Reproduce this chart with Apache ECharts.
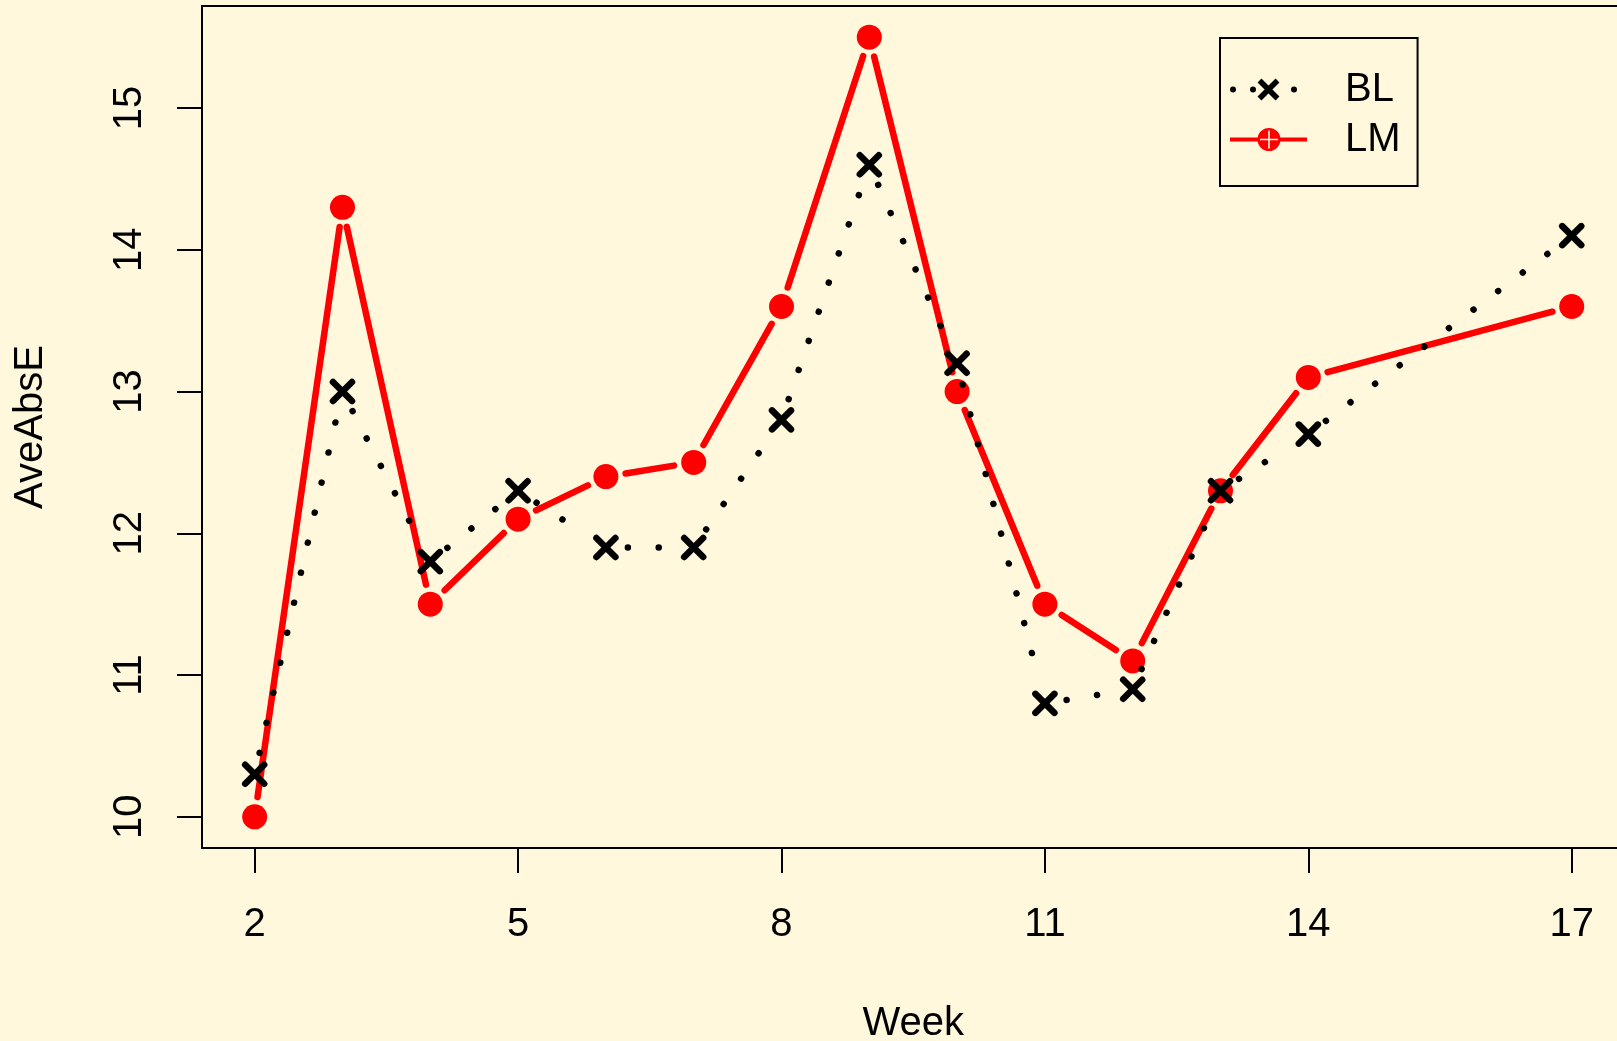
<!DOCTYPE html>
<html><head><meta charset="utf-8">
<script src="https://cdn.jsdelivr.net/npm/echarts@6/dist/echarts.min.js"></script>
<style>html,body{margin:0;padding:0;background:#FFF8DC;}#c{width:1617px;height:1041px;}</style>
</head><body><div id="c"></div>
<script>
// ---- data ----
const weeks = [2, 3, 4, 5, 6, 7, 8, 9, 10, 11, 12, 13, 14, 17];
const blValues = [10.3, 13.0, 11.8, 12.3, 11.9, 11.9, 12.8, 14.6, 13.2, 10.8, 10.9, 12.3, 12.7, 14.1];
const lmValues = [10.0, 14.3, 11.5, 12.1, 12.4, 12.5, 13.6, 15.5, 13.0, 11.5, 11.1, 12.3, 13.1, 13.6];
const xTicks = [2, 5, 8, 11, 14, 17];
const yTicks = [10, 11, 12, 13, 14, 15];
const seriesNames = ['BL', 'LM'];

const FONT = '"Liberation Sans", Arial, Helvetica, sans-serif';
const BG = '#FFF8DC';

function segment(p, q, gap) {
  const dx = q[0] - p[0], dy = q[1] - p[1];
  const L = Math.hypot(dx, dy);
  if (L <= 2 * gap) return null;
  const ux = dx / L, uy = dy / L;
  return { x1: p[0] + ux * gap, y1: p[1] + uy * gap, x2: q[0] - ux * gap, y2: q[1] - uy * gap };
}

function makeRender(vals, kind) {
  return function (params, api) {
    const i = params.dataIndex;
    const p = api.coord([api.value(0), api.value(1)]);
    const children = [];
    if (i < weeks.length - 1) {
      const q = api.coord([weeks[i + 1], vals[i + 1]]);
      const s = segment(p, q, kind === 'LM' ? 20 : 22);
      if (s) {
        children.push({
          type: 'line', shape: s,
          style: kind === 'LM'
            ? { stroke: '#ff0000', lineWidth: 6.5, lineCap: 'round' }
            : { stroke: '#000', lineWidth: 6.5, lineCap: 'round', lineDash: [0.01, 30.8] }
        });
      }
    }
    if (kind === 'LM') {
      children.push({ type: 'circle', shape: { cx: p[0], cy: p[1], r: 12.5 }, style: { fill: '#ff0000' } });
    } else {
      const h = 9.5;
      const st = { stroke: '#000', lineWidth: 6.5, lineCap: 'round' };
      children.push({ type: 'line', shape: { x1: p[0] - h, y1: p[1] - h, x2: p[0] + h, y2: p[1] + h }, style: st });
      children.push({ type: 'line', shape: { x1: p[0] - h, y1: p[1] + h, x2: p[0] + h, y2: p[1] - h }, style: st });
    }
    return { type: 'group', children };
  };
}

// legend icon paths (77 x 25 box)
function circ(cx, cy, r, sweep) {
  return `M${cx - r} ${cy} A${r} ${r} 0 1 ${sweep} ${cx + r} ${cy} A${r} ${r} 0 1 ${sweep} ${cx - r} ${cy} Z `;
}
function poly(pts) {
  return 'M' + pts.map(p => p[0].toFixed(2) + ' ' + p[1].toFixed(2)).join(' L') + ' Z ';
}
function xPath(cx, cy, h, t) {
  const d = t / (2 * Math.SQRT2);
  return poly([[cx - h + d, cy - h - d], [cx + h + d, cy + h - d], [cx + h - d, cy + h + d], [cx - h - d, cy - h + d]]) +
         poly([[cx + h + d, cy - h + d], [cx - h + d, cy + h + d], [cx - h - d, cy + h - d], [cx + h - d, cy - h - d]]);
}
const anchors = 'M0 0 L0 0 Z M77 25 L77 25 Z ';
const blIcon = 'path://' + anchors + circ(3, 12.5, 3, 1) + circ(23, 12.5, 3, 1) + circ(64, 12.5, 3, 1) + xPath(38.5, 12.5, 9, 5.5);
const cx = 39, cy = 12.5, r = 11.5, t = 0.8, a = 9;
const crossCW = [[cx - t, cy - a], [cx + t, cy - a], [cx + t, cy - t], [cx + a, cy - t], [cx + a, cy + t], [cx + t, cy + t],
                 [cx + t, cy + a], [cx - t, cy + a], [cx - t, cy + t], [cx - a, cy + t], [cx - a, cy - t], [cx - t, cy - t]];
const lmIcon = 'path://' + anchors +
  poly([[0, 10.5], [cx - r + 1, 10.5], [cx - r + 1, 14.5], [0, 14.5]]) +
  poly([[cx + r - 1, 10.5], [77, 10.5], [77, 14.5], [cx + r - 1, 14.5]]) +
  circ(cx, cy, r, 1) + poly(crossCW.slice().reverse());

const chart = echarts.init(document.getElementById('c'), null, { renderer: 'canvas' });
chart.setOption({
  backgroundColor: BG,
  animation: false,
  textStyle: { fontFamily: FONT, color: '#000' },
  grid: { left: 202, top: 6, right: -7.4, bottom: 193, show: true, borderColor: '#000', borderWidth: 2,
          backgroundColor: 'transparent', containLabel: false, outerBoundsMode: 'none' },
  legend: {
    orient: 'vertical', left: 1220, top: 38,
    padding: [31.5, 17, 26.5, 10],
    itemWidth: 77, itemHeight: 25, itemGap: 10,
    borderColor: '#000', borderWidth: 2, backgroundColor: 'transparent',
    textStyle: { fontSize: 40, fontFamily: FONT, color: '#000', lineHeight: 40, padding: [0, 0, 0, 33] },
    selectedMode: false,
    data: [
      { name: seriesNames[0], icon: blIcon, itemStyle: { color: '#000', borderWidth: 0 } },
      { name: seriesNames[1], icon: lmIcon, itemStyle: { color: '#ff0000', borderWidth: 0 } }
    ]
  },
  xAxis: {
    type: 'value', min: 1.4, max: 17.6,
    name: 'Week', nameLocation: 'middle', nameGap: 156,
    nameTextStyle: { fontSize: 40, fontFamily: FONT, color: '#000' },
    axisLine: { show: true, lineStyle: { color: '#000', width: 2 } },
    axisTick: { show: true, customValues: xTicks, length: 25, inside: false, lineStyle: { color: '#000', width: 2 } },
    axisLabel: { customValues: xTicks, fontSize: 40, fontFamily: FONT, color: '#000', margin: 57 },
    splitLine: { show: false }
  },
  yAxis: {
    type: 'value', min: 9.78, max: 15.72,
    name: 'AveAbsE', nameLocation: 'middle', nameGap: 151, nameRotate: 90,
    nameTextStyle: { fontSize: 40, fontFamily: FONT, color: '#000' },
    axisLine: { show: true, lineStyle: { color: '#000', width: 2 } },
    axisTick: { show: true, customValues: yTicks, length: 25, inside: false, lineStyle: { color: '#000', width: 2 } },
    axisLabel: { customValues: yTicks, rotate: 90, fontSize: 40, fontFamily: FONT, color: '#000', margin: 52 },
    splitLine: { show: false }
  },
  series: [
    {
      name: seriesNames[1], type: 'custom', itemStyle: { color: '#ff0000' },
      encode: { x: 0, y: 1 }, clip: false,
      data: weeks.map((w, i) => [w, lmValues[i]]),
      renderItem: makeRender(lmValues, 'LM')
    },
    {
      name: seriesNames[0], type: 'custom', itemStyle: { color: '#000' },
      encode: { x: 0, y: 1 }, clip: false,
      data: weeks.map((w, i) => [w, blValues[i]]),
      renderItem: makeRender(blValues, 'BL')
    }
  ]
});
</script>
</body></html>
